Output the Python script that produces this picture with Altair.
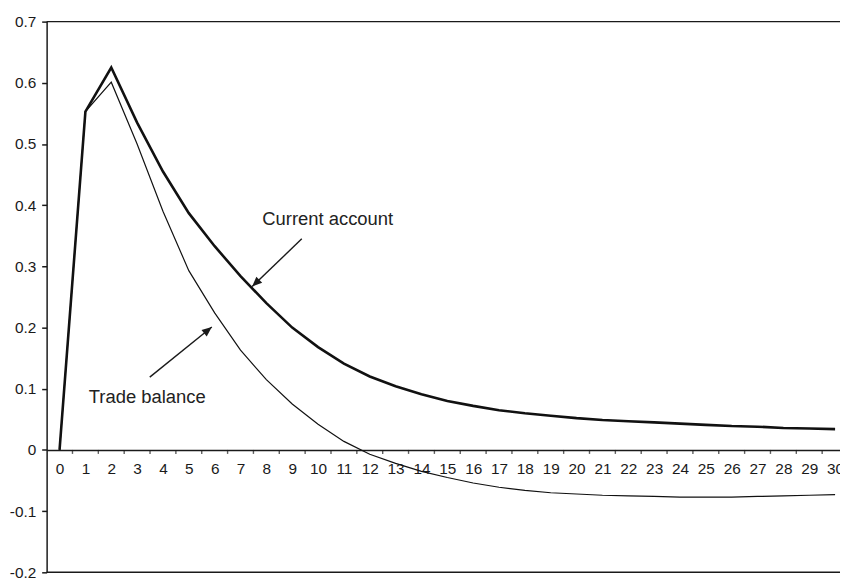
import altair as alt
import pandas as pd

# ---- data ----
periods = list(range(31))
current_account = [0.0, 0.553, 0.625, 0.535, 0.455, 0.387, 0.333, 0.284, 0.240, 0.200,
                   0.168, 0.141, 0.120, 0.104, 0.091, 0.080, 0.072, 0.065, 0.060, 0.056,
                   0.052, 0.049, 0.047, 0.045, 0.043, 0.041, 0.039, 0.038, 0.036, 0.035, 0.034]
trade_balance = [0.0, 0.553, 0.601, 0.500, 0.390, 0.293, 0.224, 0.163, 0.115, 0.075,
                 0.042, 0.014, -0.007, -0.022, -0.035, -0.045, -0.054, -0.061, -0.066, -0.070,
                 -0.072, -0.074, -0.075, -0.076, -0.077, -0.077, -0.077, -0.076, -0.075, -0.074, -0.073]
y_ticks = [-0.2, -0.1, 0.0, 0.1, 0.2, 0.3, 0.4, 0.5, 0.6, 0.7]
x_tick_bounds = [p + 0.5 for p in periods[:-1]]

label_text = ["Current account", "Trade balance"]
label_x = [7.84, 1.13]
label_y = [0.368, 0.0766]
arrow_tail_x = [9.37, 3.49]
arrow_tail_y = [0.345, 0.119]
arrow_tip_x = [7.45, 5.89]
arrow_tip_y = [0.267, 0.201]
arrow_angle = [226, 51]

FONT = "Liberation Sans"
INK = "#1a1a1a"
X_DOMAIN = [-0.5, 30.19]
Y_DOMAIN = [-0.2, 0.7]
W, H = 801, 556

lines_df = pd.DataFrame({"t": periods, "ca": current_account, "tb": trade_balance})
ticks_df = pd.DataFrame({"t": x_tick_bounds, "y": [0.0] * len(x_tick_bounds)})
labels_df = pd.DataFrame({"label": label_text, "x": label_x, "y": label_y})
arrows_df = pd.DataFrame({"x": arrow_tail_x, "y": arrow_tail_y,
                          "x2": arrow_tip_x, "y2": arrow_tip_y, "ang": arrow_angle})
frame_df = pd.DataFrame({"y": [Y_DOMAIN[1], Y_DOMAIN[0]]})

xs = alt.Scale(domain=X_DOMAIN, nice=False, zero=False)
ys = alt.Scale(domain=Y_DOMAIN, nice=False, zero=False)

y_label_expr = ("datum.value == 0 ? '0' : (datum.value < 0 ? '-' + format(-datum.value, '.1f') "
                ": format(datum.value, '.1f'))")

x_axis = alt.Axis(values=periods, ticks=False, tickSize=0, grid=False, title=None,
                  offset=-(H - H * 0.7 / 0.9), labelPadding=12, labelFont=FONT,
                  labelFontSize=15.5, labelColor=INK, domainColor=INK, domainWidth=1.5,
                  labelFlush=False, labelOverlap=False)
y_axis = alt.Axis(values=y_ticks, tickSize=5, tickWidth=1.5, tickColor=INK, grid=False, title=None,
                  labelPadding=6, labelFont=FONT, labelFontSize=15.5, labelColor=INK,
                  domainColor=INK, domainWidth=1.5, labelExpr=y_label_expr, labelFlush=False)


def X(field):
    return alt.X(field, scale=xs, axis=x_axis, title=None)


def Y(field):
    return alt.Y(field, scale=ys, axis=y_axis, title=None)


frame = alt.Chart(frame_df).mark_rule(color=INK, strokeWidth=1.5).encode(
    y=Y("y:Q"), x=alt.value(0), x2=alt.value(W),
)
x_ticks = alt.Chart(ticks_df).mark_tick(orient="vertical", size=4, thickness=1.4,
                                        color=INK, yOffset=2).encode(
    x=X("t:Q"), y=Y("y:Q"),
)
tb_line = alt.Chart(lines_df).mark_line(color="#111111", strokeWidth=1.2).encode(
    x=X("t:Q"), y=Y("tb:Q"),
)
ca_line = alt.Chart(lines_df).mark_line(color="#111111", strokeWidth=2.6).encode(
    x=X("t:Q"), y=Y("ca:Q"),
)
arrow_shaft = alt.Chart(arrows_df).mark_rule(color=INK, strokeWidth=1.4).encode(
    x=X("x:Q"), y=Y("y:Q"), x2="x2:Q", y2="y2:Q",
)
arrow_head = alt.Chart(arrows_df).mark_point(
    shape="M0,0 L0.42,1 L-0.42,1 Z", filled=True, size=400, color=INK, opacity=1,
    strokeWidth=0).encode(
    x=X("x2:Q"), y=Y("y2:Q"),
    angle=alt.Angle("ang:Q", scale=None),
)
labels = alt.Chart(labels_df).mark_text(align="left", baseline="alphabetic", font=FONT,
                                        fontSize=18.6, color="#222222").encode(
    x=X("x:Q"), y=Y("y:Q"), text="label:N",
)

chart = alt.layer(frame, x_ticks, tb_line, ca_line, arrow_shaft, arrow_head, labels).properties(
    width=W, height=H,
    padding={"left": 39, "top": 11, "right": 0, "bottom": 5},
    autosize=alt.AutoSizeParams(type="none"),
    background="white",
).configure_view(stroke=None)

chart.save("out.html", embed_options={"renderer": "svg", "actions": False})
